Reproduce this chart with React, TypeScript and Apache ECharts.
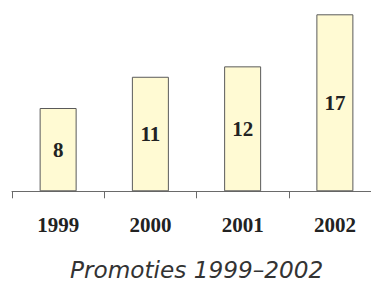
import React, { useEffect, useRef } from "react";
import * as echarts from "echarts";

const categories = ["1999", "2000", "2001", "2002"];
const values = [8, 11, 12, 17];
const titleText = "Promoties 1999\u20132002";

export default function App() {
  const ref = useRef<HTMLDivElement>(null);
  useEffect(() => {
    if (!ref.current) return;
    const chart = echarts.init(ref.current, undefined, { renderer: "svg" });
    chart.setOption({
      animation: false,
      backgroundColor: "#ffffff",
      title: {
        text: titleText,
        left: 70,
        top: 257.5,
        padding: 0,
        textStyle: {
          fontFamily: "DejaVu Sans",
          fontStyle: "italic",
          fontWeight: "normal",
          fontSize: 23.2,
          color: "#333333",
        },
      },
      grid: { left: 12, right: 0, top: 14.3, bottom: 90.7, containLabel: false },
      xAxis: {
        type: "category",
        data: categories,
        boundaryGap: true,
        axisLine: { show: true, lineStyle: { color: "#6a6a6a", width: 1 } },
        axisTick: { show: true, length: 7, alignWithLabel: false, lineStyle: { color: "#6a6a6a" } },
        axisLabel: {
          margin: 23,
          fontFamily: "Liberation Serif",
          fontWeight: "bold",
          fontSize: 21,
          color: "#222222",
        },
      },
      yAxis: {
        type: "value",
        min: 0,
        max: 17,
        show: false,
        splitLine: { show: false },
      },
      series: [
        {
          type: "bar",
          data: values,
          barWidth: 37,
          itemStyle: { color: "#FFFAD3", borderColor: "#5a5a5a", borderWidth: 1 },
          label: {
            show: true,
            position: "inside",
            offset: [0, 0],
            fontFamily: "Liberation Serif",
            fontWeight: "bold",
            fontSize: 21,
            color: "#222222",
          },
        },
      ],
    });
    return () => chart.dispose();
  }, []);
  return (
    <div
      style={{ position: "fixed", left: 0, top: 0, width: 371, height: 282, overflow: "hidden", background: "#fff" }}
    >
      <div ref={ref} style={{ width: 381, height: 282 }} />
    </div>
  );
}
